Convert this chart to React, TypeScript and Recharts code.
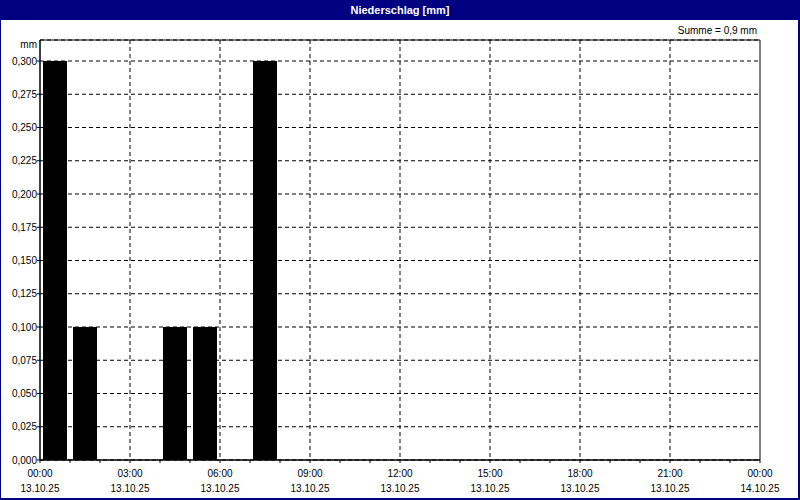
import React from 'react';
import { BarChart, Bar, XAxis, YAxis, CartesianGrid, ReferenceArea } from 'recharts';

// hourly precipitation, 13.10.25 00:00 .. 24:00
const hours = [0, 1, 2, 3, 4, 5, 6, 7, 8, 9, 10, 11, 12, 13, 14, 15, 16, 17, 18, 19, 20, 21, 22, 23];
const rain = [0.3, 0.1, 0, 0, 0.1, 0.1, 0, 0.3, 0, 0, 0, 0, 0, 0, 0, 0, 0, 0, 0, 0, 0, 0, 0, 0];
const hourTicks = [0, 1, 2, 3, 4, 5, 6, 7, 8, 9, 10, 11, 12, 13, 14, 15, 16, 17, 18, 19, 20, 21, 22, 23, 24];
const gridHours = [3, 6, 9, 12, 15, 18, 21];
const yTicks = [0, 0.025, 0.05, 0.075, 0.1, 0.125, 0.15, 0.175, 0.2, 0.225, 0.25, 0.275, 0.3];
const yMax = 0.3158;

const data = hours.map((h, i) => ({ h: h + 0.5, v: rain[i] }));

const FONT = '"Liberation Sans", Arial, sans-serif';

function HourTick(props: any) {
  const { x, y, payload } = props;
  const h = payload.value as number;
  if (h % 3 !== 0) return null;
  const time = `${String(h % 24).padStart(2, '0')}:00`;
  const date = h === 24 ? '14.10.25' : '13.10.25';
  return (
    <g>
      <text x={x} y={y + 12} textAnchor="middle" fontSize={10} fill="#000" fontFamily={FONT}>{time}</text>
      <text x={x} y={y + 27} textAnchor="middle" fontSize={10} fill="#000" fontFamily={FONT}>{date}</text>
    </g>
  );
}

export default function App() {
  return (
    <div
      style={{
        position: 'fixed',
        left: 0,
        top: 0,
        width: 800,
        height: 500,
        background: '#fff',
        boxShadow: 'inset 1px 0 0 #000080, inset -2px -2px 0 #000080',
        fontFamily: FONT,
      }}
    >
      <div
        style={{
          position: 'absolute',
          left: 0,
          top: 0,
          width: 800,
          height: 20,
          background: '#000080',
          color: '#fff',
          fontWeight: 'bold',
          fontSize: 11,
          lineHeight: '20px',
          textAlign: 'center',
        }}
      >
        Niederschlag [mm]
      </div>
      <div style={{ position: 'absolute', right: 43, top: 25, fontSize: 10, color: '#000' }}>Summe = 0,9 mm</div>
      <div style={{ position: 'absolute', right: 763, top: 39, fontSize: 10, color: '#000' }}>mm</div>
      <div style={{ position: 'absolute', left: 0, top: 20 }}>
        <BarChart width={800} height={480} data={data} margin={{ top: 20, right: 40, left: 0, bottom: 0 }}>
          <CartesianGrid stroke="#000" strokeDasharray="4 3" verticalValues={gridHours} />
          <XAxis
            dataKey="h"
            type="number"
            domain={[0, 24]}
            ticks={hourTicks}
            interval={0}
            height={40}
            tickSize={3}
            tickLine={{ stroke: '#000' }}
            axisLine={{ stroke: '#000' }}
            tick={<HourTick />}
          />
          <YAxis
            domain={[0, yMax]}
            ticks={yTicks}
            interval={0}
            width={40}
            tickSize={3}
            tickMargin={0}
            tickLine={{ stroke: '#000' }}
            axisLine={{ stroke: '#000' }}
            tick={{ fill: '#000', fontSize: 10, fontFamily: FONT }}
            tickFormatter={(v: number) => v.toFixed(3).replace('.', ',')}
          />
          <ReferenceArea x1={0} x2={24} y1={0} y2={yMax} fill="none" stroke="#000" strokeWidth={1} ifOverflow="visible" />
          <Bar dataKey="v" fill="#000" barSize={24} isAnimationActive={false} />
        </BarChart>
      </div>
    </div>
  );
}
